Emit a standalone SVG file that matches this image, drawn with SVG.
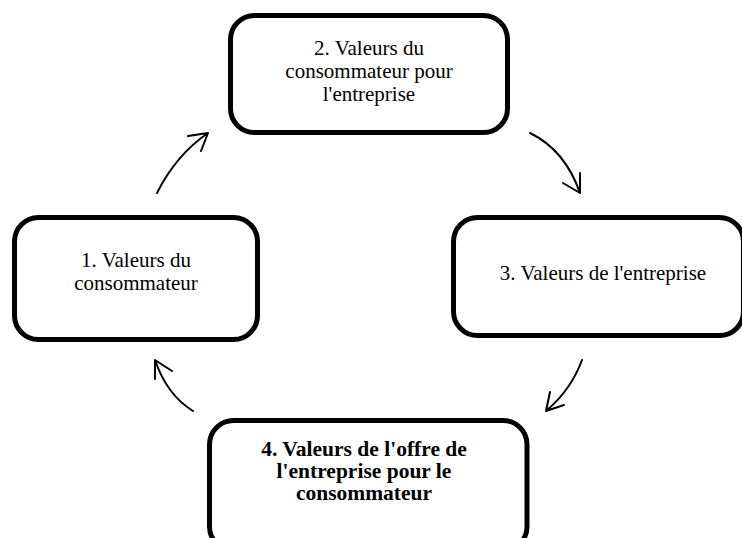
<svg xmlns="http://www.w3.org/2000/svg" width="742" height="538" viewBox="0 0 742 538">
<style>
.box{fill:#fff;stroke:#000;stroke-width:5}
.t{font-family:"Liberation Serif","Times New Roman",serif;font-size:21px;fill:#000;text-anchor:middle}
.b{font-weight:bold;font-size:21.5px}
.arr{fill:none;stroke:#000;stroke-width:2;stroke-linecap:round;stroke-linejoin:round}
</style>
<rect width="742" height="538" fill="#fff"/>
<g id="node1">
<rect class="box" x="14.5" y="217.5" width="243" height="122" rx="24"/>
<text class="t" x="136" y="267">1. Valeurs du</text>
<text class="t" x="136" y="290">consommateur</text>
</g>
<g id="node2">
<rect class="box" x="230.5" y="15.5" width="277" height="117" rx="24"/>
<text class="t" x="369" y="55">2. Valeurs du</text>
<text class="t" x="369" y="78">consommateur pour</text>
<text class="t" x="369" y="101">l'entreprise</text>
</g>
<g id="node3">
<rect class="box" x="453.5" y="217.5" width="290" height="118" rx="24"/>
<text class="t" x="603" y="280">3. Valeurs de l'entreprise</text>
</g>
<g id="node4">
<rect class="box" x="209.5" y="420.5" width="317.5" height="130" rx="24"/>
<text class="t b" x="364" y="456">4. Valeurs de l'offre de</text>
<text class="t b" x="364" y="478">l'entreprise pour le</text>
<text class="t b" x="364" y="500">consommateur</text>
</g>
<g id="connectors">
<path class="arr" d="M157,193 Q176,155 208,133 M188,136 L208,133 L201,151"/>
<path class="arr" d="M530,133 Q565,150 580,193 M580,173 L580,193 L563,183"/>
<path class="arr" d="M582,360 Q571,390 546,411 M550,392 L546,411 L564,405"/>
<path class="arr" d="M193,411 Q167,395 155,360 M155,379 L155,360 L172,371"/>
</g>
</svg>
